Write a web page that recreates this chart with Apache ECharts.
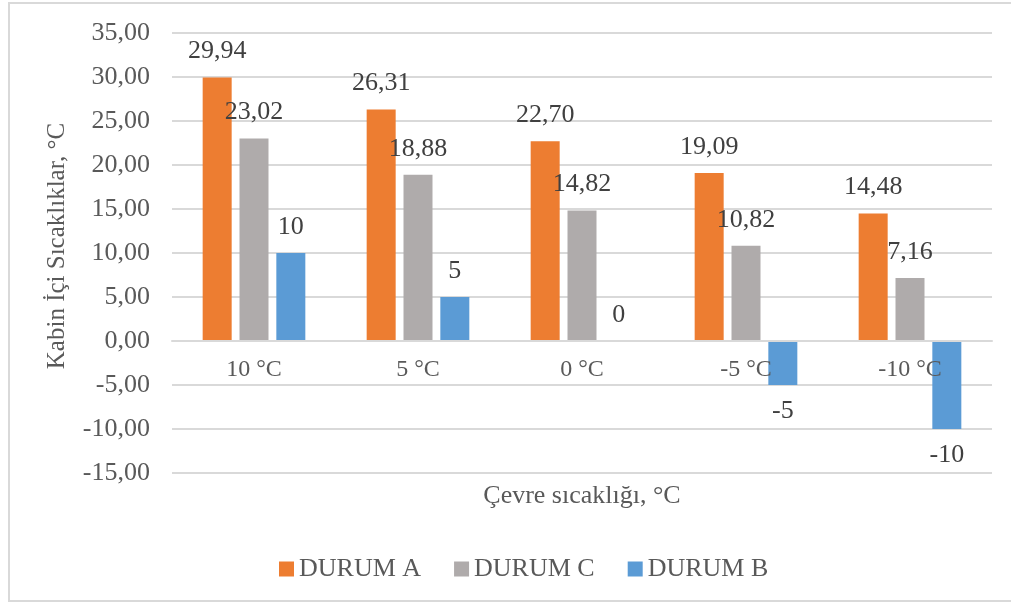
<!DOCTYPE html>
<html>
<head>
<meta charset="utf-8">
<script src="https://cdn.jsdelivr.net/npm/echarts@6/dist/echarts.min.js"></script>
<style>
  html, body { margin: 0; padding: 0; background: #ffffff; }
  #chart { width: 1011px; height: 605px; }
</style>
</head>
<body>
<div id="chart"></div>
<script>
// Ambient temperatures (categories)
const categories = ['10 °C', '5 °C', '0 °C', '-5 °C', '-10 °C'];
// Cabin temperatures per case
const durumA = [29.94, 26.31, 22.70, 19.09, 14.48];
const durumC = [23.02, 18.88, 14.82, 10.82, 7.16];
const durumB = [10, 5, 0, -5, -10];

const FONT = "'Liberation Serif', 'Times New Roman', serif";
const TEXT = '#595959';
const GRID = '#d9d9d9';

const comma2 = v => v.toFixed(2).replace('.', ',');

// Labels sit above positive bars and below negative ones
function withLabels(values, fmt) {
  return values.map(v => ({
    value: v,
    label: { position: v < 0 ? 'bottom' : 'top', formatter: () => fmt(v) }
  }));
}

const labelStyle = { show: true, fontFamily: FONT, fontSize: 26, color: '#404040', distance: 13 };

// Plot box: 440 px tall for a 50-unit range; the category axis is lifted to the zero line
const PLOT_TOP = 33, PLOT_BOTTOM = 132, PLOT_H = 605 - PLOT_TOP - PLOT_BOTTOM;
const Y_MIN = -15, Y_MAX = 35;
const ZERO_LIFT = PLOT_H * (0 - Y_MIN) / (Y_MAX - Y_MIN);

const chart = echarts.init(document.getElementById('chart'), null, { renderer: 'canvas' });
chart.setOption({
  animation: false,
  textStyle: { fontFamily: FONT },
  grid: { left: 172, right: 19, top: PLOT_TOP, bottom: PLOT_BOTTOM, outerBoundsMode: 'none', containLabel: false },
  legend: {
    left: 274, top: 551,
    itemWidth: 15, itemHeight: 15, itemGap: 33,
    icon: 'rect',
    textStyle: { fontFamily: FONT, fontSize: 26, color: TEXT, padding: [0, 0, 0, 0] },
    data: ['DURUM A', 'DURUM C', 'DURUM B']
  },
  xAxis: {
    type: 'category',
    data: categories,
    position: 'bottom',
    offset: -ZERO_LIFT,
    z: 5,
    axisLine: { onZero: false, lineStyle: { color: GRID, width: 2 } },
    axisTick: { show: false },
    axisLabel: { fontFamily: FONT, fontSize: 24, color: TEXT, margin: 17 },
    name: 'Çevre sıcaklığı, °C',
    nameLocation: 'middle',
    nameGap: 142,
    nameMoveOverlap: false,
    nameTextStyle: { fontFamily: FONT, fontSize: 26, color: TEXT }
  },
  yAxis: {
    type: 'value',
    min: Y_MIN, max: Y_MAX, interval: 5,
    axisLine: { show: false },
    axisTick: { show: false },
    splitLine: { lineStyle: { color: GRID, width: 2 } },
    axisLabel: { fontFamily: FONT, fontSize: 26, color: TEXT, margin: 22, formatter: v => comma2(v) }
  },
  series: [
    {
      name: 'DURUM A', type: 'bar', barWidth: 29, barGap: '27%',
      itemStyle: { color: '#ED7D31' },
      label: labelStyle,
      data: withLabels(durumA, comma2)
    },
    {
      name: 'DURUM C', type: 'bar', barWidth: 29, barGap: '27%',
      itemStyle: { color: '#AFABAB' },
      label: labelStyle,
      data: withLabels(durumC, comma2)
    },
    {
      name: 'DURUM B', type: 'bar', barWidth: 29, barGap: '27%',
      itemStyle: { color: '#5B9BD5' },
      label: labelStyle,
      data: withLabels(durumB, v => String(v))
    }
  ],
  graphic: [
    {
      type: 'rect', silent: true,
      shape: { x: 9, y: 3, width: 1010, height: 598 },
      style: { fill: 'none', stroke: '#d9d9d9', lineWidth: 2 }
    },
    {
      // value-axis title, rotated to read bottom-to-top
      type: 'text', silent: true,
      x: 57, y: 246, rotation: Math.PI / 2,
      style: {
        text: 'Kabin İçi Sıcaklıklar, °C',
        font: "25px 'Liberation Serif', 'Times New Roman', serif",
        fill: TEXT, align: 'center', verticalAlign: 'middle'
      }
    }
  ]
});
</script>
</body>
</html>
